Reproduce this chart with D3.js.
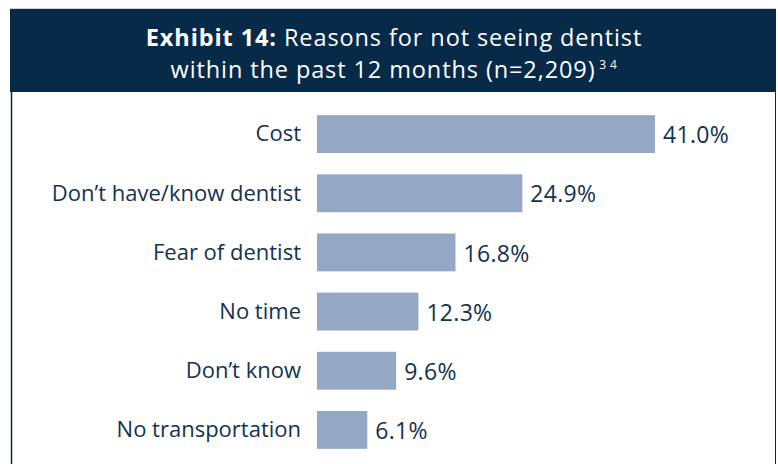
<!DOCTYPE html>
<html><head><meta charset="utf-8">
<script src="https://cdn.jsdelivr.net/npm/d3@7"></script>
<style>
html,body{margin:0;padding:0;background:#fff;}
svg{display:block;font-family:"Open Sans",sans-serif;}
</style></head>
<body><svg id="chart" width="778" height="464"></svg>
<script>
const categories = ["Cost","Don\u2019t have/know dentist","Fear of dentist","No time","Don\u2019t know","No transportation"];
const values = [41.0, 24.9, 16.8, 12.3, 9.6, 6.1];
const valueLabels = ["41.0%","24.9%","16.8%","12.3%","9.6%","6.1%"];

const svg = d3.select("#chart");
const navy = "#062a48";
const textCol = "#13324f";
const barCol = "#94a8c6";

// frame
svg.append("line").attr("x1",10).attr("x2",776).attr("y1",8.5).attr("y2",8.5).attr("stroke","#d0d4d8").attr("stroke-width",1);
svg.append("rect").attr("x",10).attr("y",9).attr("width",766).attr("height",83).attr("fill",navy);
svg.append("line").attr("x1",11.5).attr("x2",11.5).attr("y1",92).attr("y2",464).attr("stroke",navy).attr("stroke-width",1.5);
svg.append("line").attr("x1",775.5).attr("x2",775.5).attr("y1",92).attr("y2",464).attr("stroke",navy).attr("stroke-width",1);

// title
const t1 = svg.append("text").attr("x",394).attr("y",46).attr("text-anchor","middle").attr("fill","#fff")
  .style("font-size","23.5px").style("letter-spacing","0.9px");
t1.append("tspan").attr("font-weight","bold").text("Exhibit 14:");
t1.append("tspan").text(" Reasons for not seeing dentist");
const t2 = svg.append("text").attr("x",394).attr("y",78).attr("text-anchor","middle").attr("fill","#fff")
  .style("font-size","23.5px").style("letter-spacing","0.9px");
t2.append("tspan").text("within the past 12 months (n=2,209)");
t2.append("tspan").attr("dy",-9).style("font-size","12px").style("letter-spacing","0.5px").text("\u00a03 4");

// scales
const x = d3.scaleLinear().domain([0,41]).range([317,655]);
const y = d3.scaleBand().domain(categories).range([104.5,459.5]).paddingInner(0.36).paddingOuter(0.18);

const g = svg.append("g");
g.selectAll("rect.bar").data(categories).join("rect").attr("class","bar")
  .attr("x",x(0)).attr("y",d=>y(d)).attr("height",y.bandwidth())
  .attr("width",(d,i)=>x(values[i])-x(0)).attr("fill",barCol);

// category axis labels
const axis = d3.axisLeft(y).tickSize(0).tickPadding(0);
const ag = svg.append("g").attr("transform","translate(301,0)").call(axis);
ag.select(".domain").remove();
ag.selectAll("text").attr("fill",textCol).style("font-size","22px").style("font-family","'Open Sans', sans-serif").attr("dy","0.33em");

// value labels
g.selectAll("text.val").data(categories).join("text").attr("class","val")
  .attr("x",(d,i)=>x(values[i])+8).attr("y",d=>y(d)+y.bandwidth()/2)
  .attr("dy","0.4em").attr("fill",textCol).style("font-size","23px").style("letter-spacing","0.3px")
  .text((d,i)=>valueLabels[i]);
</script></body></html>
